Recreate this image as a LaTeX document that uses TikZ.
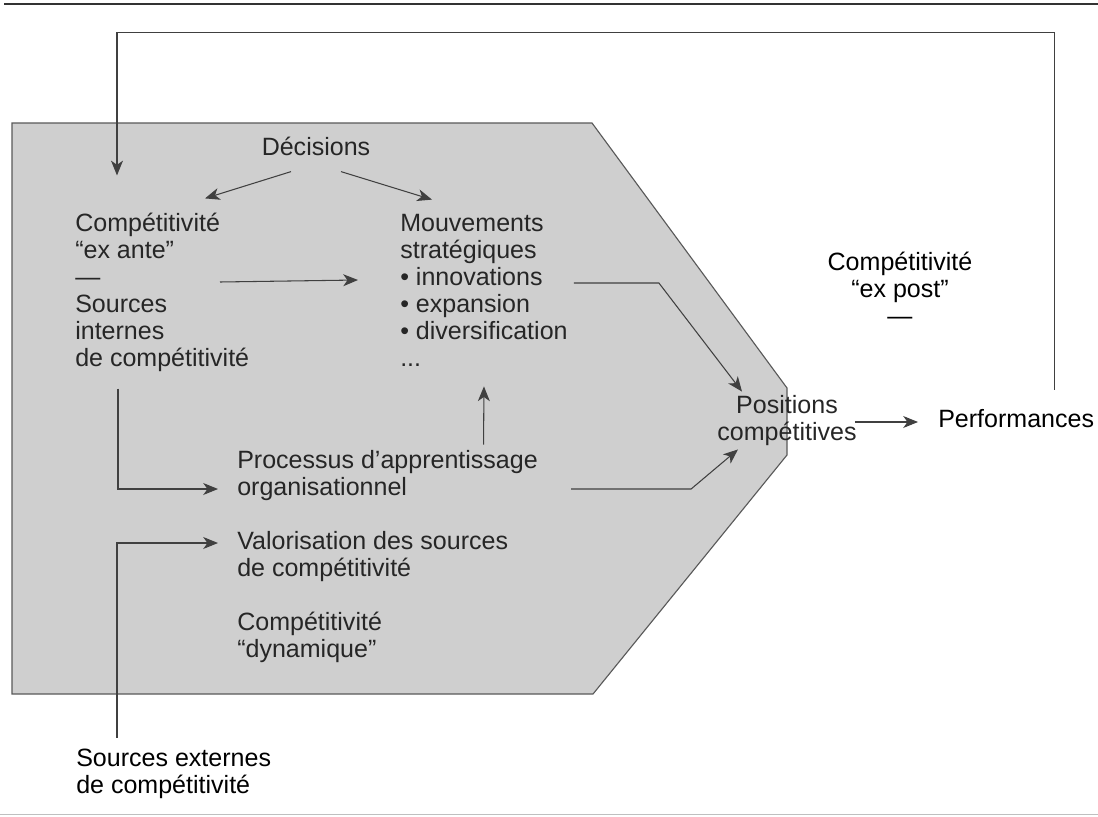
\documentclass[tikz,border=0pt]{standalone}
\usepackage{fontspec}
\setmainfont{Liberation Sans}
\usetikzlibrary{arrows.meta,calc}

\begin{document}
\begin{tikzpicture}[x=0.025cm, y=-0.025cm,
    txt/.style={inner sep=0pt, font=\fontsize{17.8pt}{19.2pt}\selectfont},
    intxt/.style={txt, text=black!85, align=left},
    outtxt/.style={txt, text=black},
    arr/.style={draw=black!75, line width=0.75pt, -{Stealth[length=10.5pt,width=8.5pt,inset=3pt]}}]
  \useasboundingbox (0,0) rectangle (1098,816);
  \draw[black!80, line width=1.4pt] (4,4) -- (1098,4);
  \draw[black!25, line width=0.6pt] (0,814) -- (1098,814);

  % grey zone
  \filldraw[fill=black!19, draw=black!65, line width=0.8pt]
    (12,123) -- (592,123) -- (787,388) -- (787,455) -- (593,694) -- (12,694) -- cycle;

  \node[intxt] (dec) at (316,146) {Décisions};
  \node[intxt, anchor=west] (exante) at (75,292) {Compétitivité\\“ex ante”\\—\\Sources\\internes\\de compétitivité};
  \node[intxt, anchor=west] (mouv) at (400,290) {Mouvements\\stratégiques\\• innovations\\• expansion\\• diversification\\...};
  \node[intxt, anchor=west] (proc) at (237,476) {Processus d’apprentissage\\organisationnel};
  \node[intxt, anchor=west] (valo) at (237,557) {Valorisation des sources\\de compétitivité};
  \node[intxt, anchor=west] (dyn) at (237,637) {Compétitivité\\“dynamique”};
  \node[intxt, align=center] (pos) at (787,421) {Positions\\compétitives};

  \node[outtxt, align=center] (expost) at (900,288) {Compétitivité\\“ex post”\\—};
  \node[outtxt, anchor=west] (perf) at (938,419) {Performances};
  \node[outtxt, align=left, anchor=west] (ext) at (76,774) {Sources externes\\de compétitivité};

  \draw[arr] ($(dec.south)+(-25,16)$) -- ($(exante.north west)+(130,-14)$);
  \draw[arr] ($(dec.south)+(25,16)$) -- ($(mouv.north west)+(32,-14)$);
  \draw[arr] ($(exante.west)+(145,-10)$) -- ($(mouv.west)+(-42,-10)$);
  \draw[arr] ($(mouv.east)+(6,-7)$) -- ++(85,0) -- ($(pos.north)+(-45,-4)$);
  \draw[arr] ($(proc.east)+(33,13)$) -- ++(120,0) -- ($(pos.south)+(-49,3)$);
  \draw[arr] ($(proc.north)+(96,-6)$) -- ($(mouv.south)+(0,20)$);
  \draw[arr] ($(exante.south west)+(43,17)$) |- ($(proc.west)+(-19,13)$);
  \draw[arr] ($(ext.north west)+(41,-11)$) |- ($(valo.west)+(-19,-14)$);
  \draw[arr] ($(pos.east)+(-2,1)$) -- ($(perf.west)+(-20,3)$);
  % feedback loop
  \draw[arr] ($(perf.north)+(38,-20)$) -- ++(0,-357) -| ($(exante.north west)+(42,-37)$);
\end{tikzpicture}
\end{document}
